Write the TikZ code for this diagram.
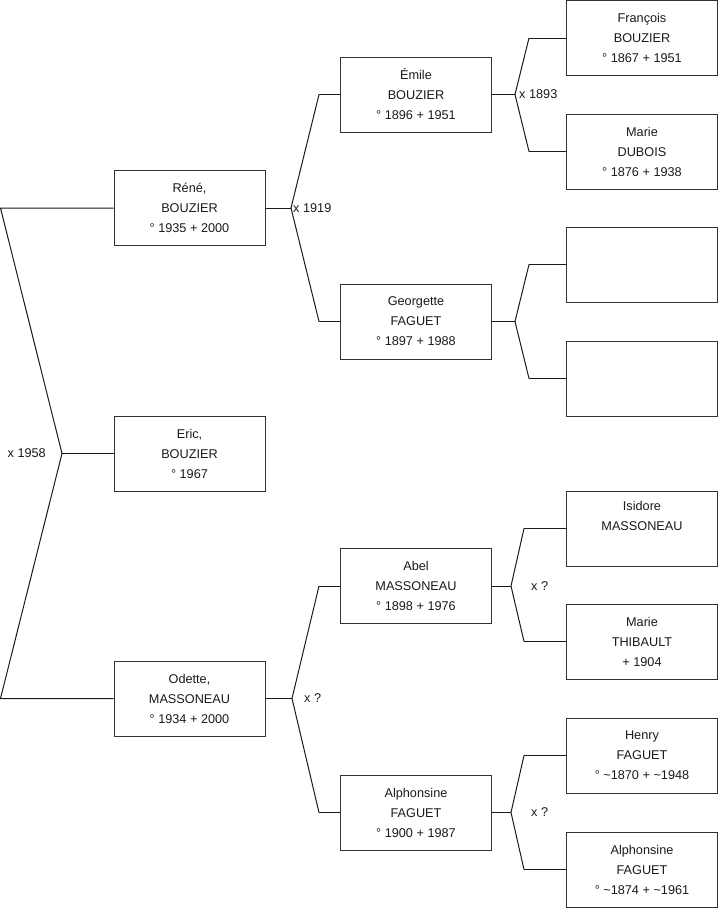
\documentclass[tikz,border=0pt]{standalone}
\usepackage{fontspec}
\setmainfont{Liberation Sans}
\usetikzlibrary{positioning,calc}
\definecolor{ink}{HTML}{1A1A1A}
\definecolor{frame}{HTML}{333333}
\tikzset{
  person/.style={draw=frame,line width=1pt,minimum width=151pt,minimum height=75pt,align=center,
    inner sep=0pt,font=\fontsize{12.7}{20}\selectfont,text=ink},
  link/.style={draw=ink,line width=1pt,line join=miter},
  union/.style={font=\fontsize{12.7}{15}\selectfont,text=ink,inner sep=0pt}
}

\begin{document}
\begin{tikzpicture}[x=1pt,y=-1pt]
  \useasboundingbox (0,0) rectangle (719,908);

  % Generation 1
  \node[person] (rene)   at (189.5,208)   {Réné,\\BOUZIER\\° 1935 + 2000};
  \node[person] (eric)   at (189.5,453.5) {Eric,\\BOUZIER\\° 1967};
  \node[person] (odette) at (189.5,698.5) {Odette,\\MASSONEAU\\° 1934 + 2000};

  % Generation 2
  \node[person] (emile)      at (416,94.5)  {Émile\\BOUZIER\\° 1896 + 1951};
  \node[person] (georgette)  at (416,321.5) {Georgette\\FAGUET\\° 1897 + 1988};
  \node[person] (abel)       at (416,586)   {Abel\\MASSONEAU\\° 1898 + 1976};
  \node[person] (alphonsine) at (416,812.5) {Alphonsine\\FAGUET\\° 1900 + 1987};

  % Generation 3
  \node[person] (francois)    at (642,38)    {François\\BOUZIER\\° 1867 + 1951};
  \node[person] (marieD)      at (642,151.5) {Marie\\DUBOIS\\° 1876 + 1938};
  \node[person] (blankA)      at (642,264.5) {};
  \node[person] (blankB)      at (642,378.5) {};
  \node[person] (isidore)     at (642,528.5) {Isidore\\MASSONEAU\\\strut};
  \node[person] (marieT)      at (642,641.5) {Marie\\THIBAULT\\+ 1904};
  \node[person] (henry)       at (642,755.5) {Henry\\FAGUET\\° \textasciitilde1870 + \textasciitilde1948};
  \node[person] (alphonsineF) at (642,869.5) {Alphonsine\\FAGUET\\° \textasciitilde1874 + \textasciitilde1961};

  % Unions
  \coordinate (mRoot)      at (62,453.5);
  \coordinate (mRene)      at (291,208);
  \coordinate (mOdette)    at (292,698.5);
  \coordinate (mEmile)     at (515,94.5);
  \coordinate (mGeorgette) at (515,321.5);
  \coordinate (mAbel)      at (511,586);
  \coordinate (mAlphonsine) at (511,812.5);

  \draw[link] (rene.west) -- ([xshift=-113pt]rene.west) -- (mRoot)
    -- ([xshift=-113pt]odette.west) -- (odette.west);
  \draw[link] (mRoot) -- (eric.west);
  \node[union,anchor=east] (uRoot) at ([xshift=-16pt]mRoot) {x 1958};

  \draw[link] (rene.east) -- (mRene);
  \draw[link] ([xshift=-21pt]emile.west) -- (mRene) -- ([xshift=-21pt]georgette.west);
  \draw[link] ([xshift=-21pt]emile.west) -- (emile.west);
  \draw[link] ([xshift=-21pt]georgette.west) -- (georgette.west);
  \node[union,anchor=west] (uRene) at ([xshift=2pt]mRene) {x 1919};

  \draw[link] (odette.east) -- (mOdette);
  \draw[link] ([xshift=-21pt]abel.west) -- (mOdette) -- ([xshift=-21pt]alphonsine.west);
  \draw[link] ([xshift=-21pt]abel.west) -- (abel.west);
  \draw[link] ([xshift=-21pt]alphonsine.west) -- (alphonsine.west);
  \node[union,anchor=west] (uOdette) at ([xshift=12pt]mOdette) {x ?};

  \draw[link] (emile.east) -- (mEmile);
  \draw[link] ([xshift=-37pt]francois.west) -- (mEmile) -- ([xshift=-37pt]marieD.west);
  \draw[link] ([xshift=-37pt]francois.west) -- (francois.west);
  \draw[link] ([xshift=-37pt]marieD.west) -- (marieD.west);
  \node[union,anchor=west] (uEmile) at ([xshift=4pt]mEmile) {x 1893};

  \draw[link] (georgette.east) -- (mGeorgette);
  \draw[link] ([xshift=-37pt]blankA.west) -- (mGeorgette) -- ([xshift=-37pt]blankB.west);
  \draw[link] ([xshift=-37pt]blankA.west) -- (blankA.west);
  \draw[link] ([xshift=-37pt]blankB.west) -- (blankB.west);

  \draw[link] (abel.east) -- (mAbel);
  \draw[link] ([xshift=-42pt]isidore.west) -- (mAbel) -- ([xshift=-42pt]marieT.west);
  \draw[link] ([xshift=-42pt]isidore.west) -- (isidore.west);
  \draw[link] ([xshift=-42pt]marieT.west) -- (marieT.west);
  \node[union,anchor=west] (uAbel) at ([xshift=20pt]mAbel) {x ?};

  \draw[link] (alphonsine.east) -- (mAlphonsine);
  \draw[link] ([xshift=-42pt]henry.west) -- (mAlphonsine) -- ([xshift=-42pt]alphonsineF.west);
  \draw[link] ([xshift=-42pt]henry.west) -- (henry.west);
  \draw[link] ([xshift=-42pt]alphonsineF.west) -- (alphonsineF.west);
  \node[union,anchor=west] (uAlphonsine) at ([xshift=20pt]mAlphonsine) {x ?};
\end{tikzpicture}
\end{document}
